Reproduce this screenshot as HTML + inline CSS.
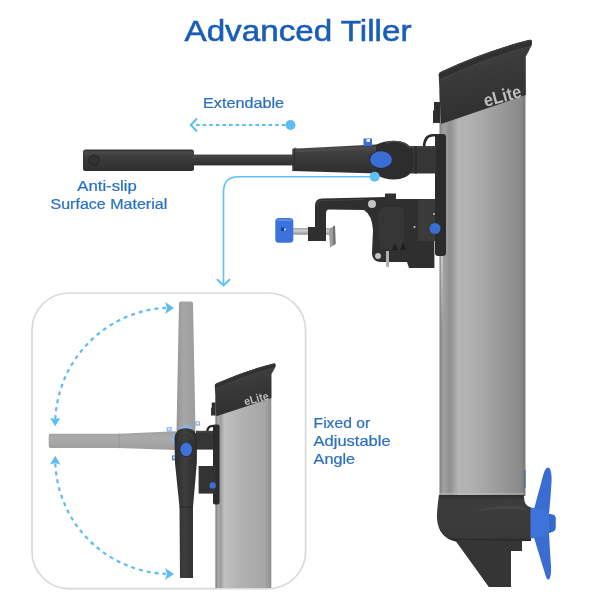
<!DOCTYPE html>
<html><head><meta charset="utf-8">
<style>
html,body{margin:0;padding:0;background:#fff;}
body{width:600px;height:600px;overflow:hidden;position:relative;}
svg{position:absolute;left:0;top:0;will-change:transform;}
text{font-family:"Liberation Sans",sans-serif;}
</style></head>
<body>
<svg width="600" height="600" viewBox="0 0 600 600">
<defs>
  <linearGradient id="body" x1="439.5" x2="525.5" y1="0" y2="0" gradientUnits="userSpaceOnUse">
    <stop offset="0" stop-color="#7c7c7c"/>
    <stop offset="0.012" stop-color="#8a8a8a"/>
    <stop offset="0.047" stop-color="#a2a2a2"/>
    <stop offset="0.122" stop-color="#909090"/>
    <stop offset="0.22" stop-color="#b4b4b4"/>
    <stop offset="0.38" stop-color="#b0b0b0"/>
    <stop offset="0.76" stop-color="#969696"/>
    <stop offset="0.94" stop-color="#8a8a8a"/>
    <stop offset="0.98" stop-color="#7e7e7e"/>
    <stop offset="1" stop-color="#7a7a7a"/>
  </linearGradient>
  <linearGradient id="bodyS" x1="215.3" x2="271.3" y1="0" y2="0" gradientUnits="userSpaceOnUse">
    <stop offset="0" stop-color="#8c8c8c"/>
    <stop offset="0.03" stop-color="#8e8e8e"/>
    <stop offset="0.05" stop-color="#b0b0b0"/>
    <stop offset="0.09" stop-color="#9a9a9a"/>
    <stop offset="0.16" stop-color="#c0c0c0"/>
    <stop offset="0.4" stop-color="#b4b4b4"/>
    <stop offset="0.88" stop-color="#a6a6a6"/>
    <stop offset="0.96" stop-color="#999"/>
    <stop offset="1" stop-color="#8a8a8a"/>
  </linearGradient>
  <linearGradient id="capG" x1="0" x2="0.25" y1="0" y2="1">
    <stop offset="0" stop-color="#444"/>
    <stop offset="0.5" stop-color="#393939"/>
    <stop offset="1" stop-color="#2f2f2f"/>
  </linearGradient>
  <linearGradient id="podG" x1="0" x2="0" y1="495" y2="587" gradientUnits="userSpaceOnUse">
    <stop offset="0" stop-color="#2e2e2e"/>
    <stop offset="0.06" stop-color="#3c3c3c"/>
    <stop offset="0.4" stop-color="#3a3a3a"/>
    <stop offset="1" stop-color="#363636"/>
  </linearGradient>
  <linearGradient id="tube" x1="0" x2="0" y1="0" y2="1">
    <stop offset="0" stop-color="#2e2e2e"/>
    <stop offset="0.12" stop-color="#4a4a4a"/>
    <stop offset="0.3" stop-color="#3e3e3e"/>
    <stop offset="1" stop-color="#2e2e2e"/>
  </linearGradient>
  <linearGradient id="ghostV" x1="0" x2="1" y1="0" y2="0">
    <stop offset="0" stop-color="#979797"/>
    <stop offset="0.4" stop-color="#a7a7a7"/>
    <stop offset="1" stop-color="#9c9c9c"/>
  </linearGradient>
  <linearGradient id="ghostH" x1="0" x2="0" y1="0" y2="1">
    <stop offset="0" stop-color="#a0a0a0"/>
    <stop offset="0.35" stop-color="#ababab"/>
    <stop offset="1" stop-color="#9c9c9c"/>
  </linearGradient>
  <linearGradient id="darkV" x1="0" x2="1" y1="0" y2="0">
    <stop offset="0" stop-color="#2c2c2c"/>
    <stop offset="0.45" stop-color="#3e3e3e"/>
    <stop offset="1" stop-color="#2c2c2c"/>
  </linearGradient>
  <linearGradient id="rod" x1="0" x2="0" y1="0" y2="1">
    <stop offset="0" stop-color="#9ea2a6"/>
    <stop offset="0.4" stop-color="#d0d3d6"/>
    <stop offset="1" stop-color="#8c9094"/>
  </linearGradient>
</defs>

<!-- Title -->
<text x="184.5" y="40.5" font-size="29.5" fill="#1a5db6" stroke="#1a5db6" stroke-width="0.55" textLength="227" lengthAdjust="spacingAndGlyphs">Advanced Tiller</text>

<!-- Extendable label + arrow -->
<text x="203" y="107.5" font-size="14.2" fill="#2a70c2" stroke="#2a70c2" stroke-width="0.22" textLength="81" lengthAdjust="spacingAndGlyphs">Extendable</text>
<line x1="196" y1="125" x2="288" y2="125" stroke="#5dbdf2" stroke-width="2" stroke-dasharray="3.6 3"/>
<polyline points="197,118.5 190.8,125 197,131.5" fill="none" stroke="#5dbdf2" stroke-width="2"/>
<circle cx="290.5" cy="125" r="5" fill="#5dbdf2"/>

<!-- Anti-slip label -->
<text x="77.3" y="190.5" font-size="14.2" fill="#2a70c2" stroke="#2a70c2" stroke-width="0.22" textLength="59.5" lengthAdjust="spacingAndGlyphs">Anti-slip</text>
<text x="50.5" y="208.5" font-size="14.2" fill="#2a70c2" stroke="#2a70c2" stroke-width="0.22" textLength="116.7" lengthAdjust="spacingAndGlyphs">Surface Material</text>

<!-- Connector line from knuckle down to panel -->
<path d="M375,176.7 L238.5,176.7 Q223.5,176.7 223.5,191.7 L223.5,285" fill="none" stroke="#5ec0f5" stroke-width="1.6"/>
<polyline points="217.5,279.8 223.5,285.3 229.5,279.8" fill="none" stroke="#5ec0f5" stroke-width="2" stroke-linecap="round"/>

<!-- Panel -->
<rect x="32" y="293" width="273.6" height="295.6" rx="37" ry="37" fill="#fff" stroke="#d9d9d9" stroke-width="1.7"/>

<!-- ===== Big motor ===== -->
<!-- gray body -->
<rect x="439.5" y="90" width="86" height="406" fill="url(#body)"/>
<linearGradient id="hl" x1="0" x2="0" y1="0" y2="1"><stop offset="0" stop-color="#d8d8d8" stop-opacity="0.9"/><stop offset="1" stop-color="#d8d8d8" stop-opacity="0"/></linearGradient>
<rect x="440.8" y="250" width="2" height="75" fill="url(#hl)"/>
<!-- cap -->
<g id="capBig">
<path d="M441,71.7 Q438.7,72.5 438.7,75 L441,124 L525.8,95 L525.8,56.5 Q528.5,52 531.5,45.5 L532,42 Q532,39.5 529.5,39.8 Q485,51 441,71.7 Z" fill="url(#capG)"/>
<path d="M441,71.7 Q485,51 529.5,39.8 Q532,39.5 532,42 L531.5,45.5 Q486,57.5 440.3,79.5 L438.7,75 Q438.7,72.5 441,71.7 Z" fill="#303030"/>
<path d="M440.5,80 Q486,58 531,46.5" fill="none" stroke="#424242" stroke-width="1.4"/>
<path d="M441.5,72.4 Q485,51.8 529.5,40.5" fill="none" stroke="#454545" stroke-width="0.9"/>
<g transform="translate(485.5,107) rotate(-15.5)"><text x="0" y="0" font-size="18" font-weight="bold" fill="#bdbdbd" textLength="38.5" lengthAdjust="spacingAndGlyphs">eLite</text></g>
<path d="M434,102 L440,102 L440,123 L433,123 L433,111 L434,110 Z" fill="#2f2f2f"/>
</g>

<rect x="523.8" y="470" width="1.8" height="18" fill="#5a6f99"/>
<!-- motor housing -->
<path d="M439,495 L524,495 Q523.5,506 531,507.5 L531,540 L522,541 L522,551 L511,551 L511,587 L489,587 L456,541.5 Q446,539.5 440.5,531 Q436.5,524 437,514 Q437.5,504 439,495 Z" fill="url(#podG)"/>
<path d="M470,512 Q500,503 524,507 L524,510 Q500,507 470,512 Z" fill="#555" opacity="0.35"/>
<path d="M439,526 Q442,536 452,538.5 L531,539 L531,541 L456,541.5 Q446,539.5 440.5,531 Z" fill="#2c2c2c"/>
<line x1="439.5" y1="493.8" x2="524" y2="493.8" stroke="#c4c4c4" stroke-width="1" opacity="0.7"/>
<path d="M456,540 L522,541 L522,551 L511,551 L511,587 L489,587 Z" fill="#353535"/>
<!-- propeller -->
<path d="M533.5,511 L543.5,474 Q546,466 549.5,468 Q552,472 551.5,482 L550.5,497 L549,514 Z" fill="#3a6dd2"/>
<path d="M533.5,536 L544.5,572 Q546.5,580.5 549,579.5 Q551.5,577 551,566 L550,551 L549,533 Z" fill="#3a6dd2"/>
<path d="M530.5,507.5 L546,509.5 L549,514 L554,515 Q555.5,516 555.5,518 L555.5,528 Q555.5,530 554,531 L549,533 L546,537 L530.5,538.5 Z" fill="#3e73da"/>
<path d="M549,514 L554,515 Q555.5,516 555.5,518 L555.5,528 Q555.5,530 554,531 L549,533 Z" fill="#3669cc"/>

<!-- mount plate -->
<rect x="435" y="134" width="11" height="122" rx="3" fill="#2b2b2b"/>
<path d="M424,148 Q424,135.2 433,135.2 L437,135.2" fill="none" stroke="#2b2b2b" stroke-width="2.6"/>

<!-- bracket / clamp -->
<rect x="293" y="228" width="38" height="6.7" fill="url(#rod)"/>
<path d="M329,229 L335,225.5 L335.5,244 L330,247.5 Z" fill="#9c9c9c"/>
<path d="M333,226.7 L335,225.5 L335.5,244 L333.5,245.3 Z" fill="#6e6e6e"/>
<path d="M322,198.5 L366,197.5 L385,197 L385,193.5 L396,193.5 L396,199 L435,199 L435,241 L434.4,241 L434.4,268 L409,268 L407,262 L380,262 Q372,261 372,253 L373,230 Q372,215 364,210 L329,209.5 Q326,209.5 326,213 L326,241 L308,241 L308,227 L315,227 L315,206 Q315,198.5 322,198.5 Z" fill="#2f2f2f"/>
<path d="M317,206 Q317,200.5 322,200.5 L364,199.5" fill="none" stroke="#454545" stroke-width="1.2"/>
<rect x="418" y="199" width="17" height="42" fill="#3a3a3a"/>
<path d="M378,216 Q379,207 386,207 L399,207 Q404,207 404,213 L404,249 L380,249 Z" fill="#363636"/>
<path d="M392,250 L395,243 L398,250 Z M400,250 L403,242 L406,250 Z" fill="#1f1f1f"/>
<rect x="275.3" y="218" width="18" height="24.7" rx="3.5" fill="#3b72dc"/>
<rect x="276.5" y="219" width="15.5" height="2" rx="1" fill="#5b8be8"/>
<rect x="281" y="227.5" width="3" height="3.5" fill="#1f3f88"/>
<circle cx="285" cy="229.5" r="0.9" fill="#e8eef8"/>
<circle cx="372" cy="204" r="4" fill="#c4c4c4"/>
<circle cx="378" cy="256" r="3" fill="#c4c4c4"/>
<rect x="386" y="251" width="3" height="16" fill="#b0b0b0"/>
<circle cx="414.5" cy="227" r="1" fill="#d0d0d0"/>
<circle cx="435" cy="228.5" r="5.5" fill="#3a6ed4"/>
<circle cx="434" cy="214" r="1" fill="#bdbdbd"/>

<!-- tiller -->
<rect x="83" y="149.5" width="111" height="21.5" rx="2.5" fill="url(#tube)"/>
<circle cx="94" cy="160" r="5" fill="#333" stroke="#262626" stroke-width="1.2"/>
<rect x="193" y="154.6" width="100" height="10.8" fill="url(#tube)"/>
<path d="M292.3,148.7 L386,144 L386,173.8 L292.3,171 Z" fill="url(#tube)"/>
<line x1="293" y1="151.6" x2="386" y2="146.8" stroke="#4e4e4e" stroke-width="1.6"/>
<line x1="294.5" y1="149" x2="294.5" y2="171" stroke="#2a2a2a" stroke-width="0.8"/>
<path d="M293,148.8 L295,147.6 L298,148.5 Z" fill="#3a3a3a"/>
<rect x="408" y="146" width="28" height="27.5" fill="#363636"/>
<line x1="408" y1="147" x2="435" y2="147" stroke="#474747" stroke-width="1.5"/>
<rect x="414.5" y="146" width="2.5" height="27.5" fill="#2c2c2c"/>
<path d="M376,145 Q384,140.8 394,140.8 Q407,140.8 412,149 Q415,160 412,171 Q407,179.5 394,179.5 Q384,179.5 376,174.5 Z" fill="#2d2d2d"/>
<path d="M386,143 Q390,141.4 394,141.4 Q405,141.4 410,148" fill="none" stroke="#4a4a4a" stroke-width="1.4"/>
<ellipse cx="381" cy="159.6" rx="12" ry="9.3" fill="#262a33"/>
<ellipse cx="381" cy="159.6" rx="11" ry="8.3" fill="#3a6ed4"/>
<rect x="363.5" y="138.5" width="8.5" height="7.5" fill="#3a6ed4"/>
<rect x="366.5" y="139" width="3.5" height="3" fill="#e8eef8"/>
<circle cx="374.7" cy="176.7" r="5" fill="#5ec0f5"/>

<!-- ===== Small motor in panel ===== -->
<rect x="215.3" y="398" width="56" height="190" fill="url(#bodyS)"/>
<use href="#capBig" transform="translate(215.3,383.5) scale(0.651,0.625) translate(-439.5,-71.7)"/>
<rect x="213" y="424.5" width="6.6" height="80" rx="2" fill="#2b2b2b"/>
<path d="M206,431 Q207,424.7 213,424.7 L214,424.7 L214,427 L213,427 Q209,427 208.5,431 Z" fill="#2b2b2b"/>
<rect x="198.6" y="466" width="17" height="27.6" fill="#333"/>
<circle cx="212.7" cy="485.4" r="3.2" fill="#3a6ed4"/>
<!-- ghost handles -->
<path d="M179,303 Q179,301.5 181,301.5 L191,301.5 Q193,301.5 193,303 L194.8,395 L195.5,432 L176.5,432 L177.2,395 Z" fill="url(#ghostV)"/>
<path d="M50.5,433.7 L119,433.7 L176,431.3 L176,450 L119,448 L50.5,448 Q48.7,448 48.7,446 L48.7,435.7 Q48.7,433.7 50.5,433.7 Z" fill="url(#ghostH)"/>
<line x1="119" y1="433.5" x2="119" y2="448.3" stroke="#959595" stroke-width="0.8"/>
<ellipse cx="186" cy="431" rx="7" ry="6" fill="#8db3e6"/>
<ellipse cx="176.5" cy="439.5" rx="5" ry="6" fill="#8db3e6"/>
<rect x="166.7" y="427" width="5" height="4.7" fill="#98bbe8"/>
<rect x="168.2" y="428" width="2" height="1.8" fill="#eef4fb"/>
<rect x="195" y="421.2" width="5" height="4.6" fill="#98bbe8"/>
<rect x="196.5" y="422.2" width="2" height="2" fill="#eef4fb"/>
<rect x="172" y="455.4" width="6" height="5" fill="#5a86d6"/>
<rect x="173.2" y="456.6" width="2" height="2" fill="#e8eef8"/>
<!-- dark vertical handle -->
<rect x="196" y="430.8" width="17" height="18.8" fill="#363636"/>
<line x1="196" y1="431.8" x2="212" y2="431.8" stroke="#474747" stroke-width="1.4"/>
<path d="M174.5,439.5 Q174.5,428.3 185.8,428.3 Q197,428.3 197,439.5 L196.8,463 L193,507 L193,578 L180,578 L179.5,507 L175,463 Z" fill="url(#darkV)"/>
<path d="M179.5,507 L193,507" stroke="#262626" stroke-width="1"/>
<path d="M179,441 Q179,432.5 186,432.5 Q193,432.5 193,441" fill="none" stroke="#3f3f3f" stroke-width="1.3"/>
<path d="M396,398" fill="none"/>
<ellipse cx="186.2" cy="449.4" rx="6.6" ry="7.7" fill="#262a33"/>
<ellipse cx="186.2" cy="449.4" rx="5.8" ry="6.9" fill="#3d72d8"/>

<!-- curved arrows in panel -->
<path d="M55.3,419 A117,117 0 0 1 166,307.8" fill="none" stroke="#5dbdf2" stroke-width="2.2" stroke-dasharray="4 4"/>
<path d="M55.3,463.5 A115.5,115.5 0 0 0 166,573.9" fill="none" stroke="#5dbdf2" stroke-width="2.2" stroke-dasharray="4 4"/>
<path d="M174,308 L165,302 L167,308 L165,314 Z" fill="#5dbdf2"/>
<path d="M174,574 L165,568 L167,574 L165,580 Z" fill="#5dbdf2"/>
<path d="M55.2,426.3 L50,417.8 L55.2,419.3 L60.4,417.8 Z" fill="#5dbdf2"/>
<path d="M55.2,455.7 L50,464.4 L55.2,462.9 L60.4,464.4 Z" fill="#5dbdf2"/>

<!-- Fixed label -->
<text x="313.6" y="427.6" font-size="14.2" fill="#2a70c2" stroke="#2a70c2" stroke-width="0.22" textLength="56.5" lengthAdjust="spacingAndGlyphs">Fixed or</text>
<text x="313.6" y="445.6" font-size="14.2" fill="#2a70c2" stroke="#2a70c2" stroke-width="0.22" textLength="77" lengthAdjust="spacingAndGlyphs">Adjustable</text>
<text x="313.6" y="463.6" font-size="14.2" fill="#2a70c2" stroke="#2a70c2" stroke-width="0.22" textLength="41.5" lengthAdjust="spacingAndGlyphs">Angle</text>
</svg>
</body></html>
